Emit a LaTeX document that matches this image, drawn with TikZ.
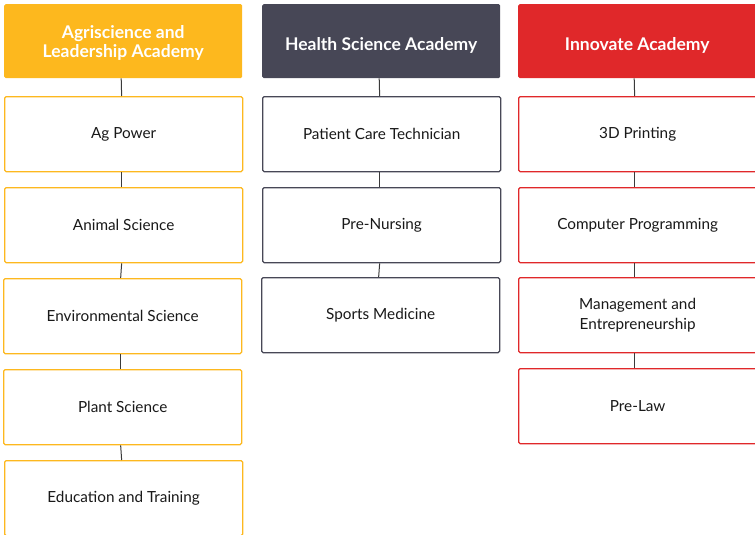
\documentclass[tikz,border=0pt]{standalone}
\usepackage{fontspec}
\setmainfont{Lato}
\definecolor{agri}{HTML}{FDB81E}
\definecolor{health}{HTML}{474756}
\definecolor{innov}{HTML}{E0282A}
\definecolor{link}{HTML}{3A3A3A}
\begin{document}
\begin{tikzpicture}[x=1pt,y=-1pt,
  head/.style={anchor=north west, minimum width=238pt, minimum height=74pt, rounded corners=1.5pt, inner sep=0pt},
  headtext/.style={text=white, font=\fontsize{17.5}{19.5}\selectfont\bfseries, align=center, inner sep=0pt},
  item/.style={anchor=north west, minimum width=238pt, minimum height=75pt, rounded corners=1.5pt, fill=white, line width=1.3pt, font=\fontsize{15.3}{19.5}\selectfont, align=center, inner sep=0pt, text=black!90},
  agitem/.style={item, draw=agri},
  hsitem/.style={item, draw=health},
  initem/.style={item, draw=innov},
  conn/.style={draw=link, line width=1pt},
  conna/.style={conn, transform canvas={xshift=-2pt}},
  connb/.style={conn, transform canvas={xshift=-2pt}},
  connc/.style={conn, transform canvas={xshift=-3pt}}]
\useasboundingbox (0,0) rectangle (755,535);
\clip (0,0) rectangle (755,535);
% column 1
\node[head, fill=agri] (h1) at (4,4) {};
\node[headtext] (t1) at ([yshift=-2pt]h1.center) {Agriscience and\\Leadership Academy};
\node[agitem] (a1) at (4,96) {Ag Power};
\node[agitem] (a2) at (4,187) {Animal Science};
\node[agitem] (a3) at (3,278) {Environmental Science};
\node[agitem] (a4) at (3,369) {Plant Science};
\node[agitem] (a5) at (4,460) {Education and Training};
% column 2
\node[head, fill=health] (h2) at (262,4) {};
\node[headtext] (t2) at ([yshift=-4pt]h2.center) {Health Science Academy};
\node[hsitem] (b1) at (262,96) {Patient Care Technician};
\node[hsitem] (b2) at (262,187) {Pre-Nursing};
\node[hsitem] (b3) at (261,277) {Sports Medicine};
% column 3
\node[head, fill=innov] (h3) at (518,4) {};
\node[headtext] (t3) at ([yshift=-4pt]h3.center) {Innovate Academy};
\node[initem] (c1) at (518,96) {3D Printing};
\node[initem] (c2) at (518,187) {Computer Programming};
\node[initem] (c3) at (518,277) {Management and\\Entrepreneurship};
\node[initem] (c4) at (518,368) {Pre-Law};
% connectors
\draw[conna] (h1.south) -- (a1.north);
\draw[conna] (a1.south) -- (a2.north);
\draw[conna] (a2.south) -- (a3.north);
\draw[conna] (a3.south) -- (a4.north);
\draw[conna] (a4.south) -- (a5.north);
\draw[connb] (h2.south) -- (b1.north);
\draw[connb] (b1.south) -- (b2.north);
\draw[connb] (b2.south) -- (b3.north);
\draw[connc] (h3.south) -- (c1.north);
\draw[connc] (c1.south) -- (c2.north);
\draw[connc] (c2.south) -- (c3.north);
\draw[connc] (c3.south) -- (c4.north);
\end{tikzpicture}
\end{document}
